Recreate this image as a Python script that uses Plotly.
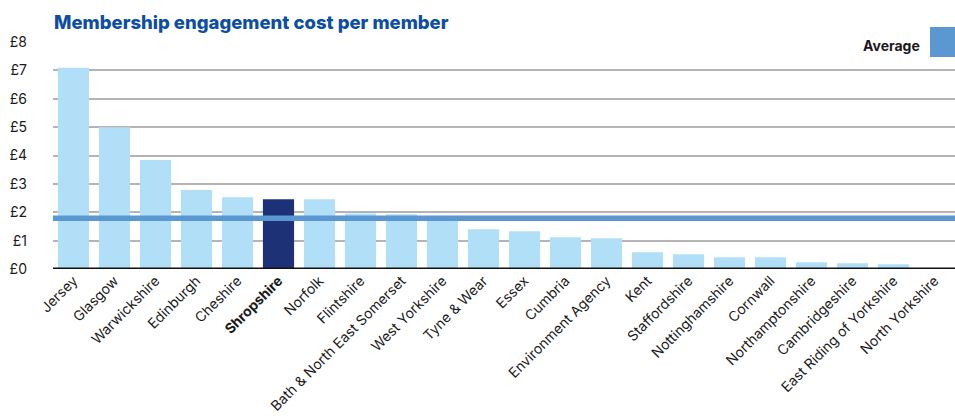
import plotly.graph_objects as go

# Cost per member by organisation (GBP)
organisations = [
    "Jersey", "Glasgow", "Warwickshire", "Edinburgh", "Cheshire", "Shropshire",
    "Norfolk", "Flintshire", "Bath & North East Somerset", "West Yorkshire",
    "Tyne & Wear", "Essex", "Cumbria", "Environment Agency", "Kent",
    "Staffordshire", "Nottinghamshire", "Cornwall", "Northamptonshire",
    "Cambridgeshire", "East Riding of Yorkshire", "North Yorkshire",
]
cost_per_member = [
    7.09, 5.00, 3.84, 2.78, 2.53, 2.46,
    2.46, 1.96, 1.93, 1.80,
    1.40, 1.33, 1.12, 1.08, 0.59,
    0.52, 0.41, 0.41, 0.24,
    0.20, 0.17, 0.0,
]
average_cost = 1.79
highlight = "Shropshire"

y_ticks = [0, 1, 2, 3, 4, 5, 6, 7, 8]
y_tick_text = [f"£{v}" for v in y_ticks]

LIGHT = "#b1dff7"
DARK = "#1d3177"
AVG = "#5b97d1"
TITLE_BLUE = "#0c4ea2"
FONT = "Inter, Roboto, sans-serif"

W, H = 955, 416
ML, MR, MT, MB = 53, 0, 42, 147
PW, PH = W - ML - MR, H - MT - MB

def px_x(p):
    return (p - ML) / PW

def px_y(p):
    return (H - MB - p) / PH

colors = [DARK if o == highlight else LIGHT for o in organisations]
tick_text = [f"<b>{o}</b>" if o == highlight else o for o in organisations]

fig = go.Figure()
fig.add_trace(go.Bar(
    x=list(range(len(organisations))),
    y=cost_per_member,
    marker=dict(color=colors, line=dict(width=0)),
    showlegend=False,
    hoverinfo="skip",
))

fig.update_layout(
    width=W, height=H,
    margin=dict(l=ML, r=MR, t=MT, b=MB),
    paper_bgcolor="white",
    plot_bgcolor="white",
    bargap=0.24,
    font=dict(family=FONT, size=13, color="#1a1a1a"),
    xaxis=dict(
        tickmode="array",
        tickvals=list(range(len(organisations))),
        ticktext=tick_text,
        tickangle=-45,
        range=[-0.5, len(organisations) - 0.5],
        showgrid=False,
        zeroline=False,
        showline=False,
        ticks="",
        automargin=False,
        ticklabelstandoff=0,
        tickfont=dict(size=14, color="#1a1a1a", family=FONT),
    ),
    yaxis=dict(
        range=[0, 8],
        tickvals=y_ticks,
        ticktext=y_tick_text,
        showgrid=True,
        gridcolor="#b4b4b4",
        gridwidth=1.5,
        zeroline=False,
        showline=False,
        ticks="",
        automargin=False,
        ticklabelstandoff=25,
        tickfont=dict(size=14, color="#1a1a1a", family=FONT),
    ),
)

shapes = [
    # baseline
    dict(type="line", xref="paper", yref="y", x0=0, x1=1, y0=0, y1=0,
         line=dict(color="#111111", width=3), layer="above"),
    # average line
    dict(type="line", xref="paper", yref="y", x0=0, x1=1,
         y0=average_cost, y1=average_cost,
         line=dict(color=AVG, width=5.5), layer="above"),
    # legend backdrop
    dict(type="rect", xref="paper", yref="paper",
         x0=px_x(842), x1=px_x(955), y0=px_y(60), y1=px_y(24),
         fillcolor="white", line=dict(width=0), layer="above"),
    # legend swatch
    dict(type="rect", xref="paper", yref="paper",
         x0=px_x(930), x1=px_x(955), y0=px_y(57), y1=px_y(27),
         fillcolor=AVG, line=dict(width=0), layer="above"),
]
fig.update_layout(shapes=shapes)

fig.add_annotation(
    xref="paper", yref="paper", x=px_x(922), y=px_y(45),
    xanchor="right", yanchor="middle", showarrow=False,
    text="<b>Average</b>", font=dict(size=14, color="#1a1a1a", family=FONT),
)
fig.add_annotation(
    xref="paper", yref="paper", x=px_x(52), y=px_y(22),
    xanchor="left", yanchor="middle", showarrow=False,
    text="Membership engagement cost per member",
    font=dict(size=18.5, color=TITLE_BLUE, family=FONT, weight=800),
)

fig.write_html("out.html")
